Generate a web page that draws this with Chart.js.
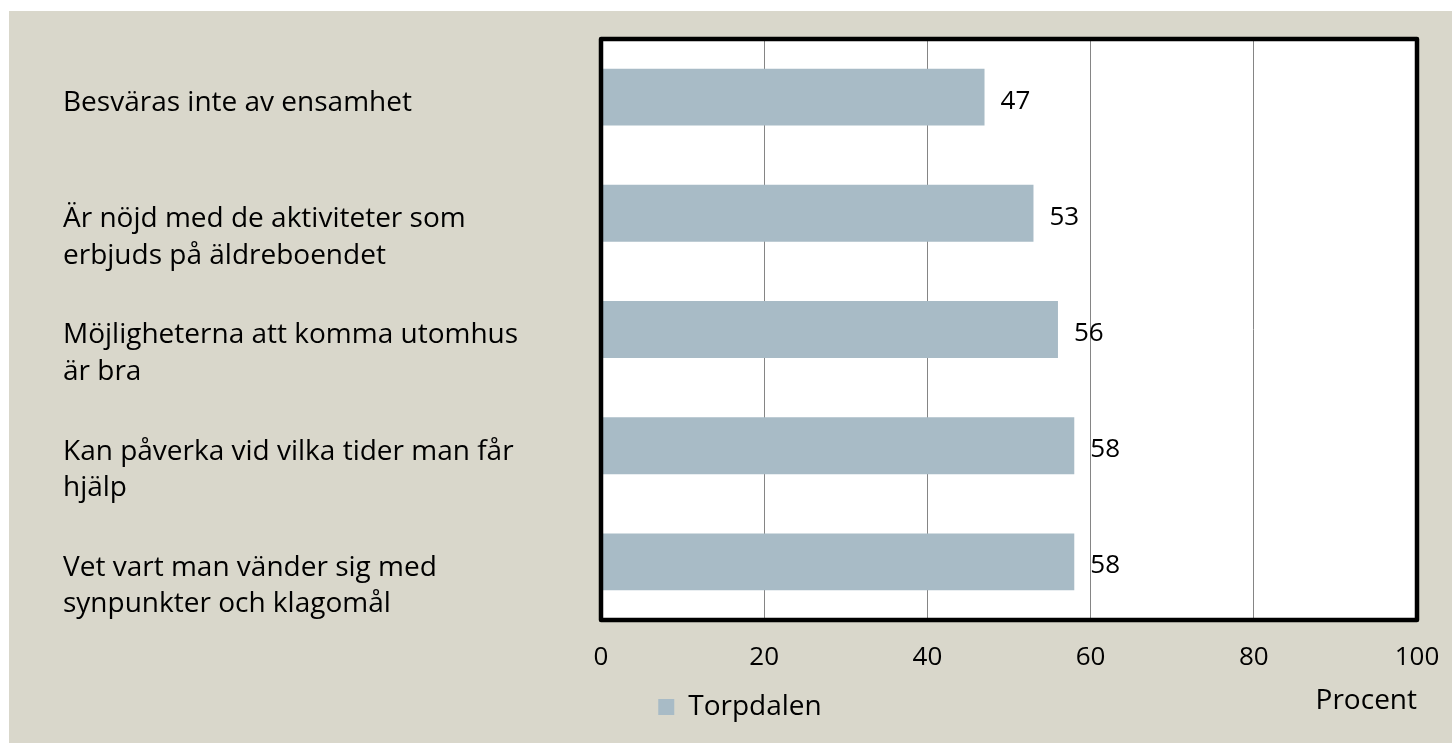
<!DOCTYPE html>
<html><head><meta charset="utf-8">
<script src="https://cdn.jsdelivr.net/npm/chart.js@4"></script>
<style>
html,body{margin:0;padding:0;background:#fff;width:1452px;height:743px;overflow:hidden}
#wrap{position:absolute;left:9px;top:11px;width:1443px;height:732px;background:#d9d7cb}
canvas{display:block}
</style></head><body>
<div id="wrap"><canvas id="c" width="1443" height="732"></canvas></div>
<script>
const categories = [
  ["Besväras inte av ensamhet"],
  ["Är nöjd med de aktiviteter som", "erbjuds på äldreboendet"],
  ["Möjligheterna att komma utomhus", "är bra"],
  ["Kan påverka vid vilka tider man får", "hjälp"],
  ["Vet vart man vänder sig med", "synpunkter och klagomål"]
];
const seriesName = "Torpdalen";
const values = [47, 53, 56, 58, 58];
const xTicks = [0, 20, 40, 60, 80, 100];
const axisTitle = "Procent";

const FONT = '"Open Sans", "DejaVu Sans", sans-serif';
const barColor = '#a8bbc6';

const framePlugin = {
  id: 'frame',
  beforeDraw(chart) {
    const {ctx, chartArea: a} = chart;
    ctx.save();
    ctx.fillStyle = '#ffffff';
    ctx.fillRect(a.left, a.top, a.right - a.left, a.bottom - a.top);
    ctx.restore();
  },
  afterDatasetsDraw(chart) {
    const {ctx} = chart;
    const meta = chart.getDatasetMeta(0);
    ctx.save();
    ctx.font = '26px ' + FONT;
    ctx.fillStyle = '#000';
    ctx.textAlign = 'left';
    ctx.textBaseline = 'middle';
    meta.data.forEach((bar, i) => {
      ctx.fillText(String(values[i]), bar.x + 16, bar.y + 4);
    });
    ctx.restore();
  },
  afterDraw(chart) {
    const {ctx, chartArea: a} = chart;
    ctx.save();
    ctx.strokeStyle = '#000';
    ctx.lineWidth = 4.5;
    ctx.lineJoin = 'round';
    ctx.strokeRect(a.left, a.top, a.right - a.left, a.bottom - a.top);
    ctx.restore();
  }
};

new Chart(document.getElementById('c'), {
  type: 'bar',
  data: {
    labels: categories,
    datasets: [{
      label: seriesName,
      data: values,
      backgroundColor: barColor,
      borderWidth: 0,
      barPercentage: 0.49,
      categoryPercentage: 1.0
    }]
  },
  options: {
    indexAxis: 'y',
    responsive: false,
    devicePixelRatio: 1,
    animation: false,
    layout: { padding: { left: 54, right: 35, top: 28, bottom: 12 } },
    plugins: {
      legend: {
        position: 'bottom',
        align: 'center',
        labels: {
          font: { size: 28, family: FONT },
          color: '#000',
          boxWidth: 16,
          boxHeight: 16,
          padding: 9
        }
      },
      tooltip: { enabled: false }
    },
    scales: {
      x: {
        min: 0,
        max: 100,
        afterBuildTicks(scale) { scale.ticks = xTicks.map(v => ({ value: v })); },
        ticks: {
          font: { size: 26, family: FONT },
          color: '#000',
          padding: 22
        },
        grid: { color: '#858585', lineWidth: 1, drawTicks: false },
        border: { display: false },
        title: {
          display: true,
          text: axisTitle,
          align: 'end',
          color: '#000',
          font: { size: 28, family: FONT },
          padding: { top: 0, bottom: -34 }
        },
        afterFit(scale) { scale.height = 64; scale.paddingLeft = 0; scale.paddingRight = 0; }
      },
      y: {
        grid: { display: false },
        border: { display: false },
        ticks: {
          crossAlign: 'far',
          color: '#000',
          labelOffset: 6,
          font: { size: 28, family: FONT, lineHeight: 1.3 },
          callback(value, index) {
            const lines = categories[index];
            return lines.length > 1 ? [''].concat(lines) : lines;
          }
        },
        afterFit(scale) { scale.width = 538; scale.paddingTop = 0; scale.paddingBottom = 0; }
      }
    }
  },
  plugins: [framePlugin]
});
</script>
</body></html>
